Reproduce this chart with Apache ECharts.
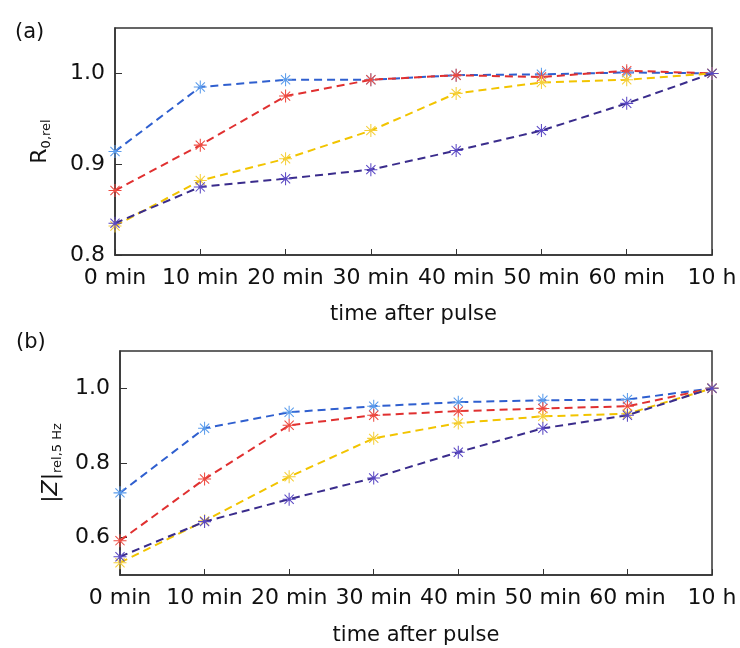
<!DOCTYPE html>
<html><head><meta charset="utf-8">
<script src="https://cdn.jsdelivr.net/npm/echarts@6/dist/echarts.min.js"></script>
<style>html,body{margin:0;padding:0;background:#fff}#c{width:740px;height:648px}</style>
</head><body><div id="c"></div>
<script>
const categories = ['0 min','10 min','20 min','30 min','40 min','50 min','60 min','10 h'];
// panel (a) R0,rel
const aBlue   = [0.914, 0.985, 0.993, 0.993, 0.998, 0.999, 1.001, 1.000];
const aRed    = [0.871, 0.921, 0.975, 0.993, 0.998, 0.996, 1.003, 1.000];
const aYellow = [0.832, 0.882, 0.906, 0.937, 0.978, 0.990, 0.993, 1.000];
const aPurple = [0.835, 0.875, 0.884, 0.894, 0.915, 0.937, 0.967, 1.000];
// panel (b) |Z|rel,5Hz
const bBlue   = [0.720, 0.893, 0.936, 0.952, 0.963, 0.968, 0.970, 1.000];
const bRed    = [0.592, 0.757, 0.901, 0.928, 0.939, 0.946, 0.952, 1.000];
const bYellow = [0.533, 0.645, 0.763, 0.866, 0.907, 0.925, 0.932, 1.000];
const bPurple = [0.549, 0.643, 0.703, 0.760, 0.829, 0.893, 0.928, 1.000];
const yTicksA = [0.8, 0.9, 1.0];
const yTicksB = [0.6, 0.8, 1.0];

const star = 'path://M-1,-0.08 L1,-0.08 L1,0.08 L-1,0.08 Z M-0.08,-1 L0.08,-1 L0.08,1 L-0.08,1 Z ' +
  'M-0.764,-0.650 L-0.650,-0.764 L0.764,0.650 L0.650,0.764 Z ' +
  'M-0.650,0.764 L-0.764,0.650 L0.650,-0.764 L0.764,-0.650 Z';

const FONT = 'DejaVu Sans';
const cols = [
  {line:'#2f5fcf', mk:'#5a9cec'},
  {line:'#e03030', mk:'#ee4a40'},
  {line:'#f2c400', mk:'#f5cf3a'},
  {line:'#3a2c8c', mk:'#5a48c4'}
];
function mkSeries(data, ci, gi){
  return {type:'line', xAxisIndex:gi, yAxisIndex:gi, data:data,
    symbol:star, symbolSize:13,
    lineStyle:{color:cols[ci].line, width:2, type:[8,5]},
    itemStyle:{color:cols[ci].mk},
    animation:false, z: 2+ci};
}
function xAx(gi, margin, gap){
  return {type:'category', gridIndex:gi, data:categories, boundaryGap:false,
    axisLine:{lineStyle:{color:'#333', width:1.5}},
    axisTick:{inside:true, length:6, lineStyle:{color:'#333'}},
    axisLabel:{fontFamily:FONT, fontSize:22, color:'#111', margin:margin, interval:0},
    name:'time after pulse', nameLocation:'middle', nameGap:gap,
    nameTextStyle:{fontFamily:FONT, fontSize:21, color:'#111'},
    splitLine:{show:false}};
}
function yAx(gi, min, max, ticks, nameRich, gap){
  return {type:'value', gridIndex:gi, min:min, max:max,
    axisLine:{show:true, lineStyle:{color:'#333', width:1.5}},
    axisTick:{show:true, inside:true, length:7, customValues:ticks, lineStyle:{color:'#333'}},
    axisLabel:{fontFamily:FONT, fontSize:22, color:'#111', margin:10, customValues:ticks,
      formatter:v=>v.toFixed(1)},
    splitLine:{show:false},
    name:nameRich, nameLocation:'middle', nameGap:gap, nameRotate:90,
    nameTextStyle:{fontFamily:FONT, fontSize:22, color:'#111',
      rich:{s:{fontFamily:FONT, fontSize:13, color:'#111', verticalAlign:'bottom', padding:[12,0,0,0]},
            i:{fontFamily:FONT, fontSize:22, fontStyle:'italic', color:'#111'},
            n:{fontFamily:FONT, fontSize:22, color:'#111'}}}};
}
const chart = echarts.init(document.getElementById('c'), null, {renderer:'canvas'});
chart.setOption({
  backgroundColor:'#fff',
  animation:false,
  grid:[
    {left:115, top:28, right:28, height:227, show:true, borderColor:'#333', borderWidth:1.5},
    {left:120, top:351, right:28, height:224, show:true, borderColor:'#333', borderWidth:1.5}
  ],
  xAxis:[xAx(0, 12, 49), xAx(1, 12, 50)],
  yAxis:[
    yAx(0, 0.8, 1.05, yTicksA, '{n|R}{s|0,rel}', 62),
    yAx(1, 0.5, 1.1, yTicksB, '{n||}{i|Z}{n||}{s|rel,5 Hz}', 52)
  ],
  graphic:[
    {type:'text', left:15, top:22, style:{text:'(a)', font:'21px "DejaVu Sans"', fill:'#111'}},
    {type:'text', left:16, top:332, style:{text:'(b)', font:'21px "DejaVu Sans"', fill:'#111'}}
  ],
  series:[
    mkSeries(aBlue,0,0), mkSeries(aRed,1,0), mkSeries(aYellow,2,0), mkSeries(aPurple,3,0),
    mkSeries(bBlue,0,1), mkSeries(bRed,1,1), mkSeries(bYellow,2,1), mkSeries(bPurple,3,1)
  ]
});
</script></body></html>
